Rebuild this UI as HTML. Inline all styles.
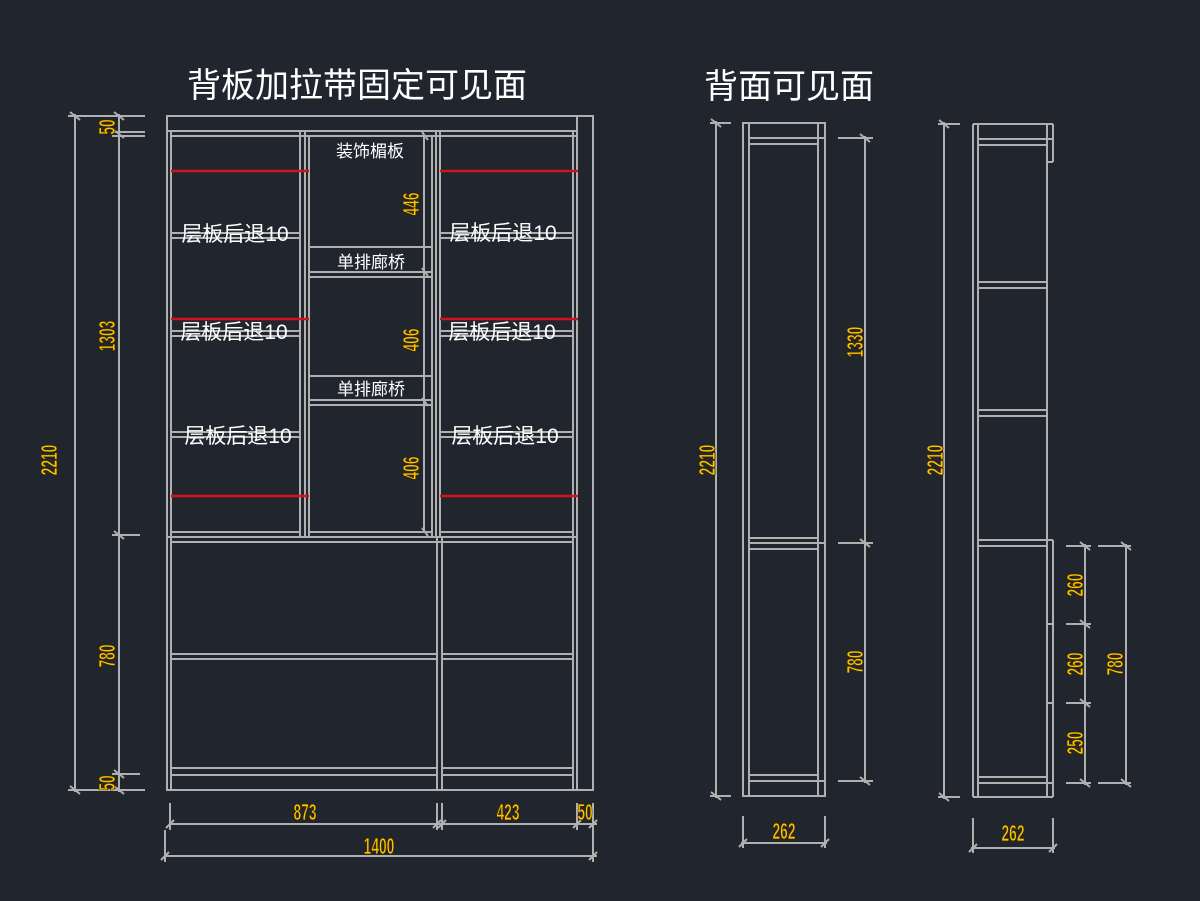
<!DOCTYPE html>
<html><head><meta charset="utf-8"><style>
html,body{margin:0;padding:0;background:#20252e;}
svg{display:block}
.l{stroke:#b0b0b0;stroke-width:2;fill:none}
.r{stroke:#d0151a;stroke-width:2.5}
.t{fill:#fff;font-family:"Liberation Sans","Noto Sans CJK SC",sans-serif}
.y{fill:#ffc400;stroke:#3a2a00;stroke-width:0.8;font-family:"Liberation Sans",sans-serif;font-weight:bold;font-size:23px}
</style></head><body>
<svg width="1200" height="901" viewBox="0 0 1200 901" xmlns="http://www.w3.org/2000/svg">
<rect width="1200" height="901" fill="#20252e"/>
<text class="t" x="357" y="97" font-size="34" text-anchor="middle">背板加拉带固定可见面</text>
<text class="t" x="789" y="98" font-size="34" text-anchor="middle">背面可见面</text>

<g class="l">
<rect x="167" y="116" width="426" height="674"/>
<line x1="167" y1="131" x2="577" y2="131"/><line x1="171" y1="136" x2="577" y2="136"/>
<line x1="171" y1="131" x2="171" y2="790"/>
<line x1="573" y1="131" x2="573" y2="790"/><line x1="577" y1="116" x2="577" y2="790"/>
<line x1="300" y1="131" x2="300" y2="537"/><line x1="305" y1="131" x2="305" y2="537"/><line x1="309" y1="136" x2="309" y2="537"/>
<line x1="432" y1="136" x2="432" y2="537"/><line x1="436" y1="131" x2="436" y2="537"/><line x1="440" y1="131" x2="440" y2="537"/>
<line x1="167" y1="537" x2="577" y2="537"/><line x1="171" y1="542" x2="573" y2="542"/>
<line x1="437" y1="537" x2="437" y2="790"/><line x1="442" y1="537" x2="442" y2="790"/>
<line x1="171" y1="233" x2="300" y2="233"/><line x1="171" y1="238" x2="300" y2="238"/>
<line x1="171" y1="331" x2="300" y2="331"/><line x1="171" y1="336" x2="300" y2="336"/>
<line x1="171" y1="432" x2="300" y2="432"/><line x1="171" y1="437" x2="300" y2="437"/>
<line x1="171" y1="532" x2="300" y2="532"/>
<line x1="440" y1="233" x2="573" y2="233"/><line x1="440" y1="238" x2="573" y2="238"/>
<line x1="440" y1="331" x2="573" y2="331"/><line x1="440" y1="336" x2="573" y2="336"/>
<line x1="440" y1="432" x2="573" y2="432"/><line x1="440" y1="437" x2="573" y2="437"/>
<line x1="440" y1="532" x2="573" y2="532"/>
<line x1="309" y1="247" x2="432" y2="247"/><line x1="309" y1="272" x2="432" y2="272"/><line x1="309" y1="277" x2="432" y2="277"/>
<line x1="309" y1="376" x2="432" y2="376"/><line x1="309" y1="400" x2="432" y2="400"/><line x1="309" y1="405" x2="432" y2="405"/>
<line x1="309" y1="532" x2="432" y2="532"/>
<line x1="424" y1="136" x2="424" y2="532"/>
<line x1="171" y1="654" x2="437" y2="654"/><line x1="171" y1="659" x2="437" y2="659"/>
<line x1="442" y1="654" x2="573" y2="654"/><line x1="442" y1="659" x2="573" y2="659"/>
<line x1="171" y1="768" x2="437" y2="768"/><line x1="171" y1="775" x2="437" y2="775"/>
<line x1="442" y1="768" x2="573" y2="768"/><line x1="442" y1="775" x2="573" y2="775"/>

<line x1="75" y1="114" x2="75" y2="792"/><line x1="68" y1="116" x2="145" y2="116"/><line x1="68" y1="790" x2="145" y2="790"/>
<line x1="119" y1="114" x2="119" y2="792"/>
<line x1="112" y1="132" x2="145" y2="132"/><line x1="112" y1="136" x2="145" y2="136"/>
<line x1="112" y1="535" x2="140" y2="535"/><line x1="112" y1="774" x2="140" y2="774"/>
<line x1="70" y1="112" x2="80" y2="120"/><line x1="70" y1="786" x2="80" y2="794"/>
<line x1="114" y1="112" x2="124" y2="120"/><line x1="114" y1="130" x2="124" y2="138"/><line x1="114" y1="531" x2="124" y2="539"/><line x1="114" y1="770" x2="124" y2="778"/><line x1="114" y1="786" x2="124" y2="794"/>
<line x1="170" y1="803" x2="170" y2="830"/><line x1="437" y1="803" x2="437" y2="830"/><line x1="442" y1="803" x2="442" y2="830"/><line x1="577" y1="803" x2="577" y2="830"/><line x1="593" y1="803" x2="593" y2="862"/><line x1="165" y1="830" x2="165" y2="862"/>
<line x1="170" y1="824" x2="597" y2="824"/>
<line x1="165" y1="856" x2="597" y2="856"/>
<line x1="166" y1="828" x2="174" y2="820"/><line x1="433" y1="828" x2="441" y2="820"/><line x1="438" y1="828" x2="446" y2="820"/><line x1="573" y1="828" x2="581" y2="820"/><line x1="589" y1="828" x2="597" y2="820"/>
<line x1="161" y1="860" x2="169" y2="852"/><line x1="589" y1="860" x2="597" y2="852"/>
<line x1="422" y1="132" x2="428" y2="140"/><line x1="422" y1="268" x2="428" y2="276"/><line x1="422" y1="398" x2="428" y2="406"/><line x1="422" y1="528" x2="428" y2="536"/>

<rect x="743" y="123" width="82" height="673"/>
<line x1="749" y1="123" x2="749" y2="796"/><line x1="818" y1="123" x2="818" y2="796"/>
<line x1="749" y1="138" x2="825" y2="138"/><line x1="749" y1="144" x2="818" y2="144"/>
<line x1="749" y1="538" x2="818" y2="538"/><line x1="749" y1="543" x2="825" y2="543"/><line x1="749" y1="549" x2="818" y2="549"/>
<line x1="749" y1="775" x2="818" y2="775"/><line x1="749" y1="781" x2="825" y2="781"/>
<line x1="716" y1="121" x2="716" y2="798"/><line x1="710" y1="123" x2="731" y2="123"/><line x1="710" y1="796" x2="731" y2="796"/>
<line x1="711" y1="119" x2="721" y2="127"/><line x1="711" y1="792" x2="721" y2="800"/>
<line x1="865" y1="136" x2="865" y2="783"/><line x1="838" y1="138" x2="873" y2="138"/><line x1="838" y1="543" x2="873" y2="543"/><line x1="838" y1="781" x2="873" y2="781"/>
<line x1="860" y1="134" x2="870" y2="142"/><line x1="860" y1="539" x2="870" y2="547"/><line x1="860" y1="777" x2="870" y2="785"/>
<line x1="743" y1="816" x2="743" y2="848"/><line x1="825" y1="816" x2="825" y2="848"/><line x1="741" y1="843" x2="827" y2="843"/>
<line x1="739" y1="847" x2="747" y2="839"/><line x1="821" y1="847" x2="829" y2="839"/>

<line x1="973" y1="124" x2="973" y2="797"/><line x1="978" y1="124" x2="978" y2="797"/>
<line x1="973" y1="124" x2="1053" y2="124"/><line x1="1053" y1="124" x2="1053" y2="162"/><line x1="1047" y1="162" x2="1053" y2="162"/>
<line x1="1047" y1="124" x2="1047" y2="797"/>
<line x1="978" y1="139" x2="1053" y2="139"/><line x1="978" y1="145" x2="1047" y2="145"/>
<line x1="978" y1="282" x2="1047" y2="282"/><line x1="978" y1="288" x2="1047" y2="288"/>
<line x1="978" y1="410" x2="1047" y2="410"/><line x1="978" y1="416" x2="1047" y2="416"/>
<line x1="978" y1="540" x2="1053" y2="540"/><line x1="978" y1="546" x2="1047" y2="546"/>
<line x1="1053" y1="540" x2="1053" y2="797"/><line x1="973" y1="797" x2="1053" y2="797"/>
<line x1="1047" y1="624" x2="1053" y2="624"/><line x1="1047" y1="703" x2="1053" y2="703"/>
<line x1="978" y1="777" x2="1047" y2="777"/><line x1="978" y1="783" x2="1053" y2="783"/>
<line x1="944" y1="122" x2="944" y2="799"/><line x1="938" y1="124" x2="960" y2="124"/><line x1="938" y1="797" x2="960" y2="797"/>
<line x1="939" y1="120" x2="949" y2="128"/><line x1="939" y1="793" x2="949" y2="801"/>
<line x1="1085" y1="544" x2="1085" y2="785"/><line x1="1126" y1="544" x2="1126" y2="785"/>
<line x1="1066" y1="546" x2="1091" y2="546"/><line x1="1066" y1="624" x2="1091" y2="624"/><line x1="1066" y1="703" x2="1091" y2="703"/><line x1="1066" y1="783" x2="1091" y2="783"/>
<line x1="1098" y1="546" x2="1131" y2="546"/><line x1="1098" y1="783" x2="1131" y2="783"/>
<line x1="1080" y1="542" x2="1090" y2="550"/><line x1="1080" y1="620" x2="1090" y2="628"/><line x1="1080" y1="699" x2="1090" y2="707"/><line x1="1080" y1="779" x2="1090" y2="787"/>
<line x1="1121" y1="542" x2="1131" y2="550"/><line x1="1121" y1="779" x2="1131" y2="787"/>
<line x1="973" y1="818" x2="973" y2="853"/><line x1="1053" y1="818" x2="1053" y2="853"/><line x1="971" y1="848" x2="1055" y2="848"/>
<line x1="969" y1="852" x2="977" y2="844"/><line x1="1049" y1="852" x2="1057" y2="844"/>
</g>

<g class="r">
<line x1="171" y1="171" x2="309" y2="171"/><line x1="171" y1="319" x2="309" y2="319"/><line x1="171" y1="496" x2="309" y2="496"/>
<line x1="440" y1="171" x2="578" y2="171"/><line x1="440" y1="319" x2="578" y2="319"/><line x1="440" y1="496" x2="578" y2="496"/>
</g>

<g class="t" font-size="21">
<text x="235" y="241" text-anchor="middle">层板后退10</text>
<text x="234" y="339" text-anchor="middle">层板后退10</text>
<text x="238" y="443" text-anchor="middle">层板后退10</text>
<text x="503" y="240" text-anchor="middle">层板后退10</text>
<text x="502" y="339" text-anchor="middle">层板后退10</text>
<text x="505" y="443" text-anchor="middle">层板后退10</text>
</g>
<g class="t" font-size="17">
<text x="370" y="157" text-anchor="middle">装饰楣板</text>
<text x="371" y="268" text-anchor="middle">单排廊桥</text>
<text x="371" y="395" text-anchor="middle">单排廊桥</text>
</g>

<g class="y">
<text transform="translate(115,127) rotate(-90) scale(0.6,1)" text-anchor="middle">50</text>
<text transform="translate(115,336) rotate(-90) scale(0.6,1)" text-anchor="middle">1303</text>
<text transform="translate(115,656) rotate(-90) scale(0.6,1)" text-anchor="middle">780</text>
<text transform="translate(115,783) rotate(-90) scale(0.6,1)" text-anchor="middle">50</text>
<text transform="translate(57,460) rotate(-90) scale(0.6,1)" text-anchor="middle">2210</text>
<text transform="translate(419,204) rotate(-90) scale(0.6,1)" text-anchor="middle">446</text>
<text transform="translate(419,340) rotate(-90) scale(0.6,1)" text-anchor="middle">406</text>
<text transform="translate(419,468) rotate(-90) scale(0.6,1)" text-anchor="middle">406</text>
<text transform="translate(305,820) scale(0.6,1)" text-anchor="middle">873</text>
<text transform="translate(508,820) scale(0.6,1)" text-anchor="middle">423</text>
<text transform="translate(585,820) scale(0.6,1)" text-anchor="middle">50</text>
<text transform="translate(379,854) scale(0.6,1)" text-anchor="middle">1400</text>
<text transform="translate(715,460) rotate(-90) scale(0.6,1)" text-anchor="middle">2210</text>
<text transform="translate(863,342) rotate(-90) scale(0.6,1)" text-anchor="middle">1330</text>
<text transform="translate(863,662) rotate(-90) scale(0.6,1)" text-anchor="middle">780</text>
<text transform="translate(784,839) scale(0.6,1)" text-anchor="middle">262</text>
<text transform="translate(943,460) rotate(-90) scale(0.6,1)" text-anchor="middle">2210</text>
<text transform="translate(1083,585) rotate(-90) scale(0.6,1)" text-anchor="middle">260</text>
<text transform="translate(1083,664) rotate(-90) scale(0.6,1)" text-anchor="middle">260</text>
<text transform="translate(1083,743) rotate(-90) scale(0.6,1)" text-anchor="middle">250</text>
<text transform="translate(1123,664) rotate(-90) scale(0.6,1)" text-anchor="middle">780</text>
<text transform="translate(1013,841) scale(0.6,1)" text-anchor="middle">262</text>
</g>
</svg>
</body></html>
